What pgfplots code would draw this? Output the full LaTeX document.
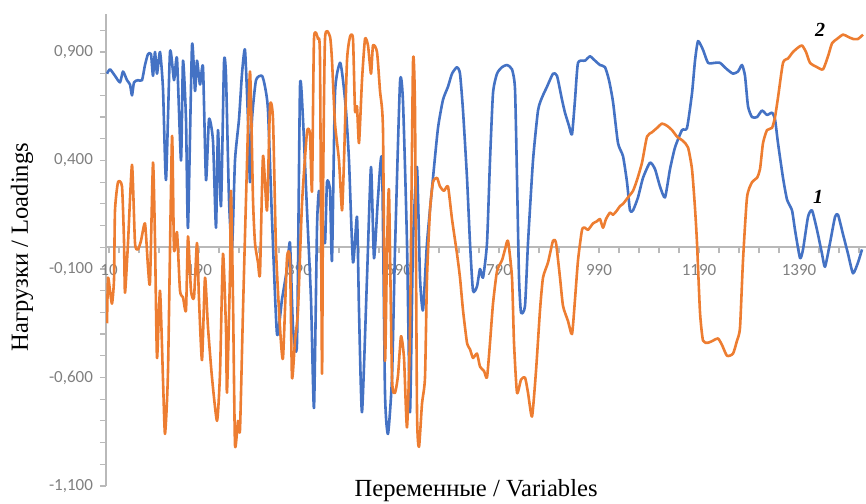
\documentclass[border=0pt]{standalone}
\usepackage{pgfplots}
\pgfplotsset{compat=1.18}
\usepackage{fontspec}
\setmainfont{Liberation Serif}
\newfontfamily\tickfont{Carlito}
\definecolor{sblue}{RGB}{68,114,196}
\definecolor{sorange}{RGB}{237,125,49}
\definecolor{tickgray}{RGB}{128,128,128}
\definecolor{axgray}{RGB}{185,185,185}
\begin{document}
\begin{tikzpicture}
\begin{axis}[
  scale only axis,
  width=380pt, height=236pt,
  xmin=4, xmax=1524, ymin=-1.1, ymax=1.075,
  axis x line*=middle, axis y line*=left,
  axis line style={draw=axgray, line width=0.8pt},
  tick style={draw=axgray, line width=0.6pt},
  tick align=outside,
  major tick length=3pt, minor tick length=3pt,
  xtick={10,190,390,590,790,990,1190,1390},
  xticklabels={10,190,390,590,790,990,1190,1390},
  minor xtick={30,70,110,150,230,270,310,350,430,470,510,550,630,670,710,750,830,870,910,950,1030,1070,1110,1150,1230,1270,1310,1350,1430,1470,1510},
  ytick={-1.1,-0.6,-0.1,0.4,0.9},
  yticklabels={{-1,100},{-0,600},{-0,100},{0,400},{0,900}},
  minor ytick={-1,-0.9,-0.8,-0.7,-0.5,-0.4,-0.3,-0.2,0,0.1,0.2,0.3,0.5,0.6,0.7,0.8,1.0},
  ticklabel style={font=\tickfont\fontsize{8.5}{10}\selectfont, text=tickgray},
  xticklabel style={yshift=-2pt},
  xlabel={Переменные / Variables},
  ylabel={Нагрузки / Loadings},
  label style={font=\fontsize{12.3}{14}\selectfont},
  xlabel style={at={(rel axis cs:0.487,0)}, anchor=base, yshift=-5.3pt},
  ylabel style={at={(rel axis cs:-0.1105,0.506)}, anchor=center},
  line join=round,
]
\coordinate (sw) at (rel axis cs:0,0);
\addplot[sblue, line width=1.3pt, smooth, tension=0.35] coordinates {
(6,0.80)(12,0.82)(22,0.79)(32,0.76)(38,0.81)(46,0.77)(52,0.75)(56,0.70)(60,0.76)(68,0.77)
(76,0.77)(82,0.84)(88,0.89)(94,0.89)(98,0.79)(102,0.90)(106,0.80)(112,0.90)(118,0.73)(124,0.31)
(132,0.90)(140,0.77)(146,0.87)(154,0.40)(158,0.86)(164,0.59)(168,0.09)(176,0.93)(182,0.72)(186,0.86)
(192,0.75)(198,0.83)(204,0.31)(210,0.59)(218,0.49)(224,0.09)(228,0.54)(234,0.19)(240,0.85)(244,0.79)
(250,0.22)(256,-0.01)(262,0.40)(270,0.59)(276,0.80)(282,0.91)(288,0.59)(292,0.30)(296,0.59)(304,0.77)
(316,0.79)(322,0.74)(328,0.63)(336,0.13)(346,-0.40)(356,-0.24)(366,-0.10)(372,0.02)(378,-0.37)(386,-0.44)
(392,0.74)(398,0.59)(406,0.17)(414,-0.24)(420,-0.74)(426,0.09)(430,0.26)(436,0.13)(442,0.02)(446,0.30)
(452,0.26)(456,-0.06)(462,0.71)(472,0.85)(478,0.77)(484,0.63)(490,0.40)(498,-0.07)(506,0.14)(510,-0.29)
(516,-0.76)(526,-0.14)(534,0.37)(540,-0.05)(548,0.23)(556,0.40)(562,-0.67)(568,-0.86)(576,-0.60)(582,-0.01)
(592,0.76)(598,0.67)(606,0.02)(612,-0.76)(618,0.02)(626,0.37)(632,-0.14)(638,-0.29)(646,0.02)(658,0.32)
(668,0.55)(678,0.68)(688,0.74)(696,0.80)(706,0.83)(712,0.80)(718,0.63)(726,0.32)(732,0.02)(738,-0.20)
(746,-0.18)(752,-0.10)(758,-0.14)(766,0.02)(772,0.40)(778,0.71)(786,0.80)(796,0.83)(806,0.84)(816,0.82)
(822,0.73)(826,0.32)(830,-0.14)(834,-0.30)(842,-0.27)(848,0.02)(858,0.40)(868,0.63)(876,0.69)(886,0.74)
(898,0.80)(906,0.79)(916,0.68)(922,0.62)(930,0.56)(936,0.52)(942,0.68)(948,0.85)(962,0.86)(972,0.88)
(982,0.86)(992,0.84)(1002,0.83)(1010,0.77)(1018,0.67)(1028,0.48)(1038,0.42)(1046,0.30)(1052,0.17)(1058,0.17)
(1068,0.23)(1078,0.32)(1092,0.39)(1102,0.36)(1112,0.28)(1122,0.23)(1132,0.36)(1142,0.46)(1156,0.54)(1166,0.55)
(1176,0.71)(1182,0.86)(1188,0.95)(1198,0.91)(1208,0.85)(1222,0.85)(1232,0.85)(1246,0.82)(1258,0.80)(1268,0.81)
(1276,0.84)(1282,0.79)(1288,0.65)(1296,0.60)(1306,0.60)(1316,0.63)(1326,0.61)(1336,0.62)(1342,0.59)(1348,0.48)
(1358,0.32)(1366,0.22)(1376,0.17)(1382,0.08)(1392,-0.05)(1398,-0.01)(1408,0.14)(1416,0.17)(1426,0.08)(1436,-0.03)
(1442,-0.09)(1452,0.02)(1462,0.14)(1468,0.15)(1478,0.06)(1488,-0.03)(1498,-0.12)(1508,-0.07)(1516,-0.01)
};
\addplot[sorange, line width=1.3pt, smooth, tension=0.35] coordinates {
(6,-0.35)(8,-0.14)(12,-0.20)(16,-0.26)(20,-0.15)(22,0.17)(28,0.30)(36,0.28)(40,0.03)(42,-0.21)
(48,0.02)(56,0.38)(62,0.02)(68,-0.01)(74,0.03)(82,0.11)(88,-0.09)(92,-0.16)(98,0.39)(102,0.03)
(106,-0.51)(112,-0.20)(118,-0.61)(122,-0.86)(128,-0.57)(136,0.51)(140,-0.01)(146,0.07)(152,-0.20)(158,-0.23)
(164,-0.29)(168,0.05)(174,-0.20)(180,-0.23)(186,0.02)(190,-0.24)(196,-0.52)(202,-0.14)(208,-0.37)(216,-0.60)
(226,-0.80)(232,-0.58)(238,-0.03)(244,-0.38)(246,-0.67)(252,-0.12)(254,0.26)(258,-0.24)(262,-0.91)(268,-0.80)
(272,-0.84)(278,-0.29)(284,0.22)(292,0.81)(298,0.22)(302,0.02)(308,-0.07)(312,-0.12)(318,0.42)(326,0.17)
(332,0.65)(338,0.59)(344,-0.01)(352,-0.37)(358,-0.51)(366,-0.05)(372,-0.06)(376,-0.60)(382,-0.43)(388,-0.29)
(396,0.20)(406,0.53)(412,0.52)(416,0.26)(420,0.96)(428,0.96)(432,0.86)(436,-0.58)(438,0.22)(442,0.96)
(452,0.97)(456,0.86)(462,0.57)(470,0.40)(476,0.17)(480,0.40)(486,0.86)(492,0.97)(498,0.96)(502,0.63)
(506,0.65)(510,0.48)(516,0.77)(522,0.96)(528,0.93)(534,0.80)(538,0.93)(546,0.90)(552,0.72)(558,0.54)
(562,-0.52)(566,-0.01)(570,0.26)(576,-0.60)(582,-0.67)(588,-0.59)(594,-0.41)(600,-0.51)(606,-0.83)(612,-0.38)
(618,0.85)(622,0.63)(626,-0.75)(630,-0.92)(636,-0.72)(642,-0.60)(646,-0.14)(652,0.17)(658,0.30)(666,0.32)
(672,0.28)(680,0.26)(688,0.28)(696,0.13)(706,-0.03)(712,-0.14)(718,-0.29)(726,-0.44)(732,-0.47)(738,-0.51)
(746,-0.49)(752,-0.55)(760,-0.57)(766,-0.60)(772,-0.44)(778,-0.26)(786,-0.11)(796,-0.06)(802,-0.01)(808,0.03)
(816,-0.14)(820,-0.44)(826,-0.67)(834,-0.61)(842,-0.60)(848,-0.67)(856,-0.78)(864,-0.57)(872,-0.29)(878,-0.14)
(888,-0.07)(898,0.03)(904,0.02)(912,-0.14)(918,-0.27)(928,-0.34)(936,-0.40)(942,-0.24)(948,-0.06)(956,0.08)
(962,0.09)(968,0.08)(978,0.11)(986,0.12)(992,0.13)(998,0.09)(1004,0.13)(1012,0.16)(1018,0.15)(1026,0.17)
(1032,0.19)(1038,0.20)(1048,0.23)(1058,0.26)(1066,0.31)(1076,0.39)(1086,0.51)(1096,0.53)(1106,0.55)(1116,0.57)
(1126,0.56)(1136,0.54)(1146,0.51)(1158,0.49)(1168,0.46)(1176,0.36)(1182,0.18)(1186,0.02)(1192,-0.30)(1198,-0.43)
(1208,-0.44)(1218,-0.43)(1228,-0.42)(1236,-0.45)(1246,-0.50)(1258,-0.49)(1266,-0.43)(1272,-0.37)(1278,-0.06)(1286,0.23)
(1296,0.30)(1306,0.32)(1312,0.36)(1318,0.48)(1326,0.54)(1336,0.55)(1342,0.60)(1348,0.69)(1358,0.85)(1368,0.87)
(1378,0.90)(1388,0.92)(1396,0.93)(1404,0.90)(1412,0.85)(1426,0.83)(1438,0.82)(1448,0.88)(1456,0.94)(1466,0.96)
(1478,0.98)(1488,0.97)(1498,0.96)(1508,0.96)(1518,0.98)
};
\node[font=\bfseries\itshape\fontsize{10}{12}\selectfont] at (axis cs:1432,1.00) {2};
\node[font=\bfseries\itshape\fontsize{10}{12}\selectfont] at (axis cs:1428,0.23) {1};
\end{axis}
\pgfresetboundingbox
\path[use as bounding box] (sw) ++(-53pt,-8.5pt) rectangle ++(433pt,251.5pt);
\end{tikzpicture}
\end{document}
